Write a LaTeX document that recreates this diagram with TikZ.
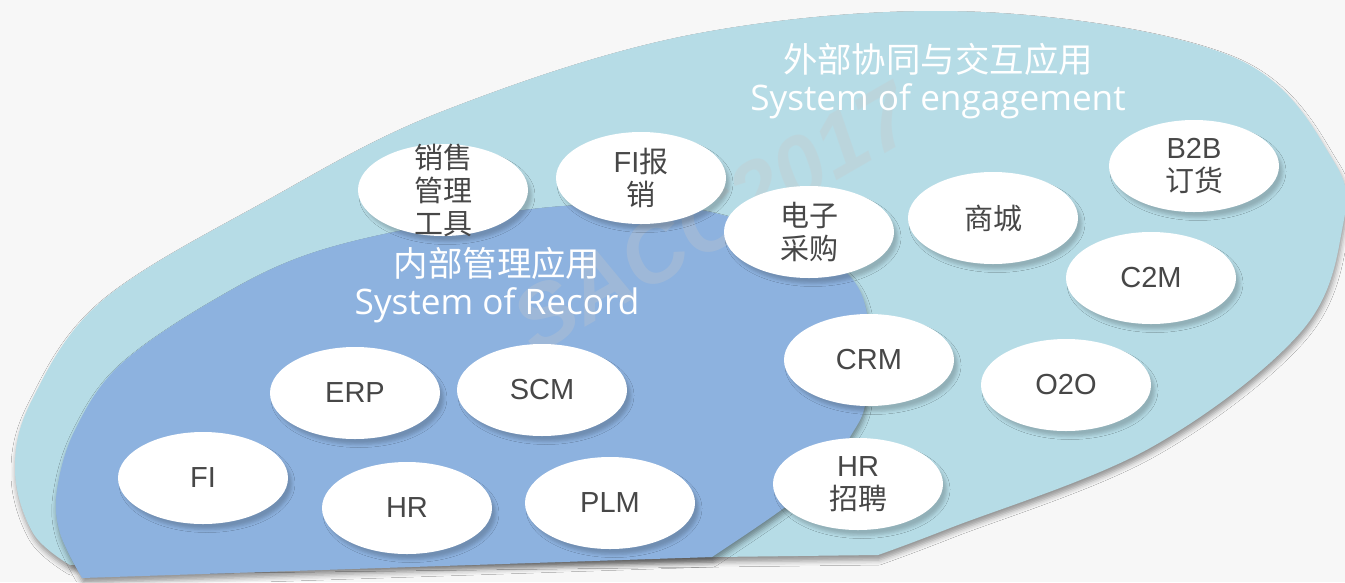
\documentclass[tikz,border=0pt]{standalone}
\usepackage{fontspec}
\setmainfont{Liberation Sans}
\newfontfamily\cjk{Noto Sans CJK SC}
\newfontfamily\headfont{Open Sans}
\usetikzlibrary{shapes.geometric,shadows.blur}

\definecolor{bggray}{HTML}{F7F7F7}
\definecolor{outerblue}{HTML}{B6DCE6}
\definecolor{innerblue}{HTML}{8DB2DF}
\definecolor{txtgray}{HTML}{474747}
\definecolor{wmgray}{HTML}{C8C8C8}

\tikzset{
  app/.style={ellipse, fill=white, minimum width=34mm, minimum height=18.4mm,
    inner sep=0pt, align=center, text=txtgray,
    font=\fontsize{16.5}{18.8}\selectfont,
    blur shadow={shadow xshift=0.8mm, shadow yshift=-1.1mm,
      shadow blur radius=0.6mm, shadow opacity=20}},
  apptext/.style={align=center, text=txtgray, inner sep=0pt,
    font=\fontsize{16.5}{18.8}\selectfont},
  heading/.style={align=center, text=white, inner sep=0pt,
    font=\fontsize{19.6}{21.6}\selectfont},
  bigshadow/.style={blur shadow={shadow xshift=0.2mm, shadow yshift=-1mm,
      shadow blur radius=1mm, shadow opacity=40}}
}

\begin{document}
\begin{tikzpicture}[x=0.2mm,y=-0.2mm]

    % background
    \fill[bggray] (0,0) rectangle (1345,582);
    \useasboundingbox (0,0) rectangle (1345,582);

    % outer area
    \fill[outerblue,bigshadow] plot[smooth,tension=0.6] coordinates {
      (70,565) (33,533) (15,470) (32,400) (103,300) (268,200) (446,110)
      (700,33) (980,12) (1233,57) (1333,160) (1342,230) (1300,333)
      (1150,448) (950,528) (878,555)} -- cycle;

    % inner area
    \fill[innerblue,bigshadow] plot[smooth,tension=0.6] coordinates {
      (82,578) (60,533) (57,490) (75,430) (120,365) (214,300) (312,253)
      (446,222) (580,205) (700,210) (790,240) (847,273) (868,320)
      (866,400) (850,437) (823,477) (777,513) (712,557)} -- cycle;

    % watermark
    \node[rotate=30,text=wmgray,opacity=0.3,inner sep=0pt,
      font=\fontsize{50}{50}\selectfont\bfseries\itshape] (watermark) at (713,218) {SACC2017};

    % titles
    \node[heading] (outer-title) at (938,81)
      {{\cjk 外部协同与交互应用}\\{\headfont\fontsize{20}{21.6}\selectfont System of engagement}};
    \node[heading] (inner-title) at (497,285)
      {{\cjk 内部管理应用}\\{\headfont\fontsize{20}{21.6}\selectfont System of Record}};

    % outer apps
    \node[app] (sales) at (443,190) {};
    \node[apptext] (sales-t) at (sales) {{\cjk 销售}\\{\cjk 管理}\\{\cjk 工具}};
    \node[app] (fiexp) at (641,178) {FI{\cjk 报}\\{\cjk 销}};
    \node[app] (eproc) at (809,232) {{\cjk 电子}\\{\cjk 采购}};
    \node[app] (mall) at (993,218) {{\cjk 商城}};
    \node[app] (b2b) at (1194,166) {B2B\\{\cjk 订货}};
    \node[app] (c2m) at (1151,278) {C2M};
    \node[app] (crm) at (869,360) {CRM};
    \node[app] (o2o) at (1066,385) {O2O};
    \node[app] (hrrec) at (858,484) {HR\\{\cjk 招聘}};

    % inner apps
    \node[app] (erp) at (355,393) {ERP};
    \node[app] (scm) at (542,390) {SCM};
    \node[app] (fi) at (203,478) {FI};
    \node[app] (hr) at (407,508) {HR};
    \node[app] (plm) at (610,503) {PLM};

\end{tikzpicture}
\end{document}
